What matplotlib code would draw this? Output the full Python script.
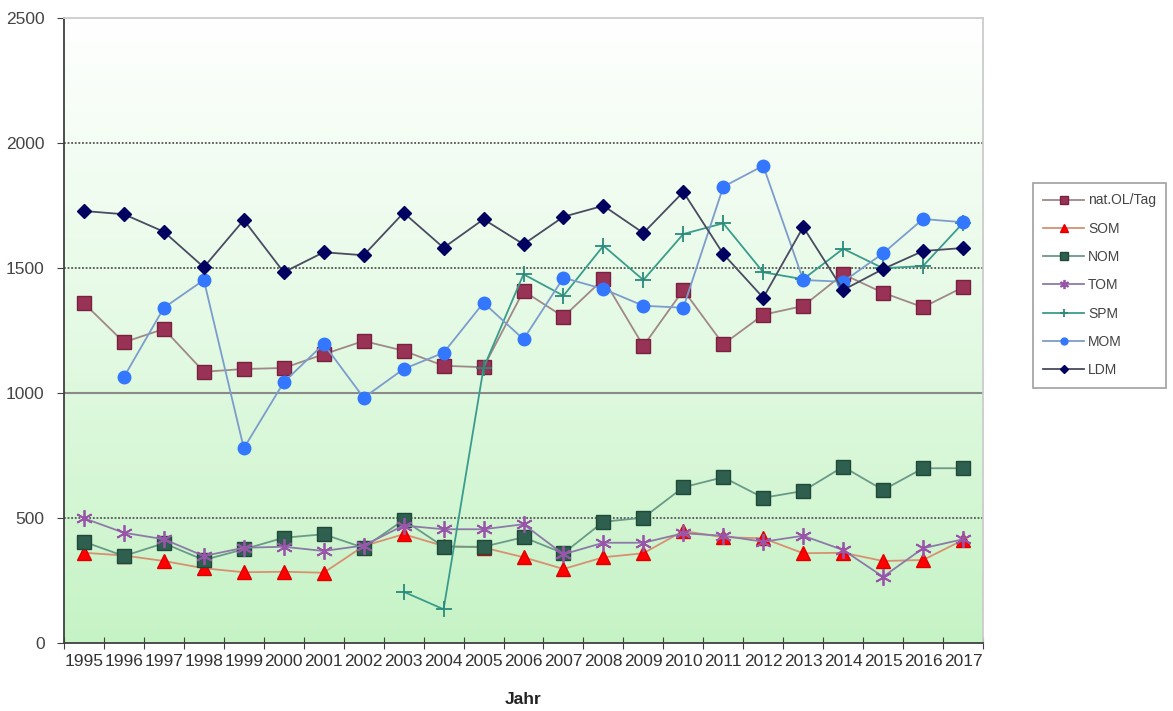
import numpy as np
import matplotlib
matplotlib.use("Agg")
import matplotlib.pyplot as plt
from matplotlib.colors import LinearSegmentedColormap

plt.rcParams['font.family'] = ['Liberation Sans', 'DejaVu Sans']

nan = np.nan
jahre = [str(j) for j in range(1995, 2018)]

nat_ol = [1359, 1203, 1256, 1085, 1096, 1100, 1155, 1208, 1169, 1109, 1103, 1408,
          1305, 1456, 1188, 1412, 1195, 1313, 1348, 1475, 1401, 1343, 1423]
som = [361, 350, 328, 299, 283, 285, 281, 388, 435, 388, 382, 343,
       296, 343, 359, 448, 423, 419, 359, 361, 328, 332, 412]
nom = [405, 348, 399, 332, 375, 421, 435, 381, 492, 385, 385, 423,
       359, 485, 501, 623, 663, 581, 608, 705, 612, 699, 699]
tom = [499, 441, 415, 348, 381, 385, 368, 390, 470, 455, 455, 475,
       355, 401, 401, 439, 429, 405, 429, 372, 265, 379, 415]
spm = [nan, nan, nan, nan, nan, nan, nan, nan, 205, 135, 1100, 1475,
       1389, 1589, 1452, 1636, 1679, 1483, 1455, 1577, 1499, 1508, 1680]
mom = [nan, 1064, 1341, 1452, 779, 1043, 1196, 981, 1096, 1161, 1361, 1215,
       1461, 1416, 1349, 1341, 1825, 1909, 1452, 1445, 1559, 1696, 1683]
ldm = [1728, 1715, 1645, 1503, 1692, 1483, 1563, 1551, 1721, 1581, 1695, 1595,
       1705, 1749, 1640, 1804, 1556, 1381, 1664, 1412, 1496, 1568, 1580]

fig = plt.figure(figsize=(11.73, 7.11), dpi=100)
ax = fig.add_axes([64/1173, 1-643/711, (983-64)/1173, (643-18)/711])

x = np.arange(len(jahre))

# background gradient, white at top, light green at bottom
grad = LinearSegmentedColormap.from_list('bg', ['#c6f3c6', '#e4fae4', '#ffffff'])
ax.imshow(np.linspace(0, 1, 256).reshape(-1, 1), cmap=grad, aspect='auto',
          extent=[-0.5, len(jahre)-0.5, 0, 2500], origin='lower', zorder=0)

for g in [500, 1500, 2000]:
    ax.axhline(g, color='#555555', lw=1.3, ls=(0, (1, 1)), zorder=1)
ax.axhline(1000, color='#8a8a8a', lw=1.5, zorder=1)

ax.plot(x, nat_ol, color='#a08888', lw=1.3, marker='s', ms=10,
        mfc='#993355', mec='#7a2040', label='nat.OL/Tag', zorder=3)
ax.plot(x, som, color='#d89070', lw=1.3, marker='^', ms=10,
        mfc='#ff0000', mec='#dd0000', label='SOM', zorder=3)
ax.plot(x, nom, color='#6a9a88', lw=1.3, marker='s', ms=10,
        mfc='#2f5f4f', mec='#1f4a3a', label='NOM', zorder=3)
ax.plot(x, tom, color='#8c7aa8', lw=1.3, marker=(6, 2, 0), ms=12, mew=1.3,
        mfc='#9955aa', mec='#9955aa', label='TOM', zorder=3)
ax.plot(x, spm, color='#3a9c8c', lw=1.3, marker='+', ms=11, mew=1.3,
        mec='#2a8a7a', label='SPM', zorder=3)
ax.plot(x, mom, color='#7c9ccc', lw=1.3, marker='o', ms=9,
        mfc='#3377ff', mec='#3377ff', label='MOM', zorder=3)
ax.plot(x, ldm, color='#4a4a60', lw=1.3, marker='D', ms=7,
        mfc='#000060', mec='#000060', label='LDM', zorder=4)

ax.set_xlim(-0.5, len(jahre)-0.5)
ax.set_ylim(0, 2500)
ax.set_yticks(range(0, 2501, 500))
ax.set_xticks(np.arange(-0.5, len(jahre), 1))
ax.set_xticklabels([])
ax.set_xticks(x, minor=True)
ax.set_xticklabels(jahre, minor=True)
ax.tick_params(axis='x', which='major', direction='inout', length=9, color='#404040')
ax.tick_params(axis='x', which='minor', length=0, labelsize=12.5,
               labelcolor='#333333', pad=8)
ax.tick_params(axis='y', direction='out', length=5, color='#404040',
               labelsize=12.5, labelcolor='#444444', pad=9)

for s in ['left', 'bottom']:
    ax.spines[s].set_color('#404040')
    ax.spines[s].set_linewidth(1.3)
for s in ['top', 'right']:
    ax.spines[s].set_color('#cccccc')
    ax.spines[s].set_linewidth(1.3)

fig.text(523/1173, 1-700/711, 'Jahr', ha='center', va='center',
         fontsize=12.5, fontweight='bold', color='#222222')

leg = fig.legend(loc='upper left', bbox_to_anchor=(1033/1173, 1-183/711),
                 fontsize=10, labelspacing=1.03, handlelength=2.9,
                 handletextpad=0.3, markerscale=0.55, borderaxespad=0,
                 frameon=True, fancybox=False, borderpad=0.75)
leg.get_frame().set_edgecolor('#888888')
leg.get_frame().set_linewidth(1.2)
for t in leg.get_texts():
    t.set_color('#444444')

fig.savefig('out.png', dpi=100)
